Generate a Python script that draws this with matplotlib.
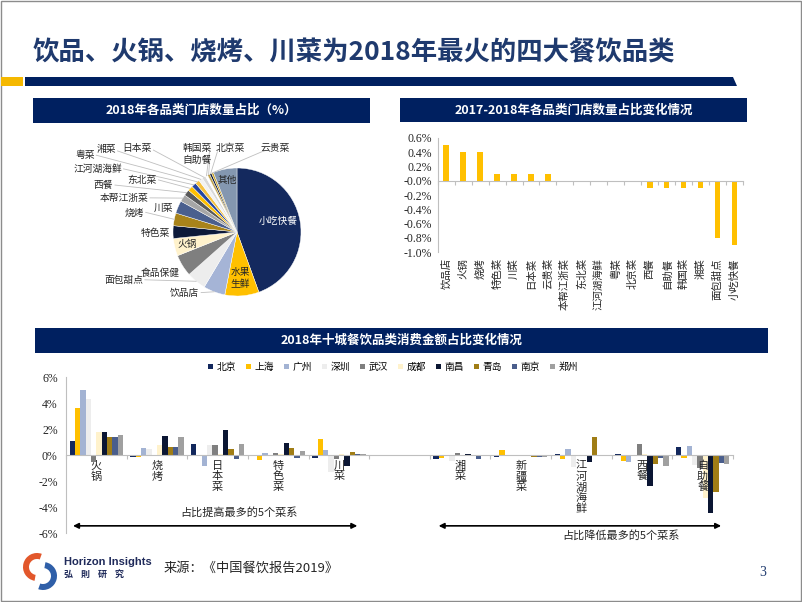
import numpy as np
import matplotlib
matplotlib.use('Agg')
import matplotlib.pyplot as plt
from matplotlib.patches import Rectangle, Polygon, Wedge

plt.rcParams['font.family'] = ['Noto Sans CJK SC', 'DejaVu Sans']
SERIF = 'Liberation Serif'

W, H = 802, 602
NAVY = '#002060'
GOLD = '#FFC000'
TXT = '#262626'

# ---------------- data ----------------
# pie: share of stores by category 2018 (%), clockwise from 12 o'clock
pie_labels = ['小吃快餐', '水果生鲜', '饮品店', '面包甜点', '食品保健', '火锅', '特色菜', '烧烤', '川菜',
              '本帮江浙菜', '西餐', '东北菜', '江河湖海鲜', '粤菜', '湘菜', '日本菜', '韩国菜', '自助餐',
              '北京菜', '云贵菜', '其他']
pie_values = [44.4, 8.6, 5.5, 4.9, 5.5, 4.4, 3.2, 3.2, 3.2,
              1.8, 1.5, 1.3, 1.2, 1.1, 1.0, 0.9, 0.6, 0.6,
              0.5, 0.5, 6.0]

# change of share 2017-2018 (%)
chg_cats = ['饮品店', '火锅', '烧烤', '特色菜', '川菜', '日本菜', '云贵菜', '本帮江浙菜', '东北菜',
            '江河湖海鲜', '粤菜', '北京菜', '西餐', '自助餐', '韩国菜', '湘菜', '面包甜点', '小吃快餐']
chg_vals = [0.5, 0.4, 0.4, 0.1, 0.1, 0.1, 0.1, 0.0, 0.0,
            0.0, 0.0, 0.0, -0.1, -0.1, -0.1, -0.1, -0.8, -0.9]

# ten cities, change of spending share (%)
city_cats = ['火锅', '烧烤', '日本菜', '特色菜', '川菜', '', '湘菜', '新疆菜', '江河湖海鲜', '西餐', '自助餐']
cities = ['北京', '上海', '广州', '深圳', '武汉', '成都', '南昌', '青岛', '南京', '郑州']
beijing   = [1.1, -0.15, 0.85, -0.1, -0.2, np.nan, -0.3, -0.13, 0.08, 0.08, 0.65]
shanghai  = [3.6, -0.15, -0.03, -0.38, 1.2, np.nan, -0.2, 0.35, -0.3, -0.45, -0.2]
guangzhou = [5.0, 0.55, -0.85, 0.15, 0.35, np.nan, -0.03, 0.0, 0.5, -0.57, 0.7]
shenzhen  = [4.3, 0.45, 0.75, -0.05, -1.3, np.nan, -0.45, -0.03, -0.9, -0.05, -0.75]
wuhan     = [-0.5, -0.05, 0.75, 0.18, -0.28, np.nan, 0.18, -0.1, -0.03, 0.85, -1.0]
chengdu   = [1.8, 0.8, 0.1, 0.1, 0.05, np.nan, 0.02, 0.02, -0.05, 0.05, -3.3]
nanchang  = [1.75, 1.47, 1.95, 0.9, -0.88, np.nan, 0.08, -0.08, -0.57, -2.4, -4.45]
qingdao   = [1.37, 0.6, 0.47, 0.52, 0.26, np.nan, -0.08, -0.18, 1.35, -0.67, -2.85]
nanjing   = [1.37, 0.65, -0.3, -0.26, 0.05, np.nan, -0.34, -0.16, 0.02, -0.26, -0.65]
zhengzhou = [1.52, 1.37, 0.87, 0.31, 0.05, np.nan, -0.05, -0.13, 0.02, -0.85, -0.72]
city_vals = [beijing, shanghai, guangzhou, shenzhen, wuhan, chengdu, nanchang, qingdao, nanjing, zhengzhou]

city_colors = ['#12275C', '#FFC000', '#A3B3D3', '#EDEDED', '#7F7F7F',
               '#FFF2CC', '#0B1633', '#A07D15', '#4A5E8C', '#A0A0A0']
pie_colors = ['#14295E', '#FFC000', '#A5B4D6', '#EDEDED', '#7F7F7F', '#FFF2CC', '#0D1A3A', '#A8831A',
              '#4A5F8E', '#A6A6A6', '#595959', '#FFC000', '#2444A0', '#F5C242', '#F2F2F2', '#D9D9D9',
              '#FFFFFF', '#BFA14A', '#0D1A3A', '#C9A227', '#8497B0']

fig = plt.figure(figsize=(W / 100, H / 100), dpi=100)


def px_axes(x0, y0, x1, y1):
    return fig.add_axes([x0 / W, 1 - y1 / H, (x1 - x0) / W, (y1 - y0) / H])


# ---------------- slide decoration ----------------
bg = fig.add_axes([0, 0, 1, 1])
bg.set_xlim(0, W)
bg.set_ylim(H, 0)
bg.axis('off')
bg.add_patch(Rectangle((0.5, 0.5), W - 1.5, H - 1.5, fill=False, ec='#8C8C8C', lw=1))
bg.text(33, 53, '饮品、火锅、烧烤、川菜为2018年最火的四大餐饮品类', fontsize=19, fontweight='bold',
        color='#1F3A6E', va='center', ha='left')
bg.add_patch(Rectangle((1, 77), 22, 9, fc='#F5B800', ec='none'))
bg.add_patch(Polygon([(25, 77), (733, 77), (737, 86), (25, 86)], closed=True, fc=NAVY, ec='none'))

headers = [((33, 98, 370, 123), '2018年各品类门店数量占比（%）'),
           ((400, 98, 747, 122), '2017-2018年各品类门店数量占比变化情况'),
           ((35, 328, 768, 353), '2018年十城餐饮品类消费金额占比变化情况')]
for (x0, y0, x1, y1), t in headers:
    bg.add_patch(Rectangle((x0, y0), x1 - x0, y1 - y0, fc=NAVY, ec='none'))
    bg.text((x0 + x1) / 2, (y0 + y1) / 2, t, color='white', fontsize=9, fontweight='bold',
            ha='center', va='center')

# footer / logo
bg.add_patch(Wedge((37, 567), 14, 100, 290, width=6, fc='#E2572B', ec='none'))
bg.add_patch(Wedge((43, 576), 14, 280, 470, width=6, fc='#2F5FA8', ec='none'))
bg.text(64, 562, 'Horizon Insights', fontsize=8, fontweight='bold', color='#1F2A5A',
        ha='left', va='center', family=['Liberation Sans', 'DejaVu Sans'])
bg.text(64, 575, '弘    則    研    究', fontsize=6.5, fontweight='bold', color='#1F2A5A',
        ha='left', va='center')
bg.text(164, 568, '来源：《中国餐饮报告2019》', fontsize=9.5, color=TXT, ha='left', va='center')
bg.text(763, 572, '3', fontsize=10, color='#1F3A6E', ha='center', va='center', family=SERIF)

# ---------------- pie ----------------
CX, CY, R = 237, 232, 75
ax_pie = px_axes(CX - 80, CY - 80, CX + 80, CY + 80)
lim = 80 / R
ax_pie.set_xlim(-lim, lim)
ax_pie.set_ylim(-lim, lim)
ax_pie.axis('off')
wedges, _ = ax_pie.pie(pie_values, colors=pie_colors, startangle=90, counterclock=False, radius=1,
                       wedgeprops=dict(edgecolor='white', linewidth=0.3))


def pd(px, py):
    return (px - CX) / R, (CY - py) / R


# label layout: name -> (x, y, ha, va, colour, leader anchor or None)
pie_layout = {
    '小吃快餐': (285, 219, 'center', 'center', 'white', None),
    '水果生鲜': (241, 286, 'center', 'center', TXT, None),
    '其他': (226, 171, 'center', 'center', TXT, None),
    '火锅': (179, 246, 'center', 'center', TXT, None),
    '饮品店': (193, 303, 'right', 'center', TXT, (195, 303)),
    '面包甜点': (127, 288, 'right', 'center', TXT, (129, 288)),
    '食品保健': (170, 280, 'right', 'center', TXT, None),
    '特色菜': (158, 233, 'right', 'center', TXT, None),
    '烧烤': (128, 209, 'right', 'center', TXT, (130, 209)),
    '川菜': (162, 204, 'right', 'center', TXT, None),
    '本帮江浙菜': (133, 192, 'right', 'center', TXT, (135, 192)),
    '西餐': (92, 177, 'right', 'center', TXT, (94, 177)),
    '东北菜': (143, 171, 'right', 'center', TXT, (145, 171)),
    '江河湖海鲜': (102, 158, 'right', 'center', TXT, (104, 158)),
    '粤菜': (70, 142, 'right', 'center', TXT, (72, 142)),
    '湘菜': (95, 135, 'right', 'center', TXT, (97, 137)),
    '日本菜': (137, 133, 'right', 'center', TXT, (139, 136)),
    '韩国菜': (191, 133, 'center', 'center', TXT, (205, 136)),
    '自助餐': (190, 147, 'center', 'center', TXT, (205, 148)),
    '北京菜': (229, 134, 'center', 'center', TXT, (214, 138)),
    '云贵菜': (282, 133, 'center', 'center', TXT, (266, 138)),
}
for w, name in zip(wedges, pie_labels):
    x, y, ha, va, col, anc = pie_layout[name]
    txt = '水果\n生鲜' if name == '水果生鲜' else name
    tx, ty = pd(x, y)
    ax_pie.text(tx, ty, txt, ha=ha, va=va, color=col, fontsize=7, linespacing=1.3, clip_on=False)
    if anc is not None:
        mid = np.deg2rad((w.theta1 + w.theta2) / 2)
        ax0, ay0 = pd(*anc)
        ax_pie.plot([ax0, np.cos(mid)], [ay0, np.sin(mid)], color='#BFBFBF', lw=0.6, clip_on=False)

# ---------------- change of share bars ----------------
ax_c = px_axes(437.7, 137.7, 743, 252.3)
xc = np.arange(len(chg_cats))
ax_c.bar(xc, chg_vals, width=0.33, color=GOLD)
ax_c.set_xlim(-0.5, len(chg_cats) - 0.5)
ax_c.set_ylim(-1.0, 0.6)
ax_c.set_yticks(np.arange(-1.0, 0.61, 0.2))
ax_c.set_yticklabels(['{:.1f}%'.format(v) for v in np.arange(-1.0, 0.61, 0.2)], family=SERIF, fontsize=8.5)
ax_c.spines[['top', 'right']].set_visible(False)
ax_c.spines['left'].set_color('#BFBFBF')
ax_c.spines['bottom'].set_position(('data', 0))
ax_c.spines['bottom'].set_color('#BFBFBF')
ax_c.set_xticks(np.arange(-0.5, len(chg_cats), 1))
ax_c.set_xticklabels([])
ax_c.tick_params(axis='x', length=3, color='#BFBFBF', direction='out')
ax_c.tick_params(axis='y', length=0, pad=4, colors=TXT)
for i, c in enumerate(chg_cats):
    ax_c.text(i, -0.05, c, transform=ax_c.get_xaxis_transform(), rotation=90, ha='center', va='top',
              fontsize=7.5, color=TXT)

# ---------------- ten cities ----------------
ax_b = px_axes(66, 377, 733, 533)
xb = np.arange(len(city_cats))
bw = 0.088
bars = []
for j, (vals, col) in enumerate(zip(city_vals, city_colors)):
    b = ax_b.bar(xb + (j - 4.5) * bw, vals, width=bw, color=col, label=cities[j])
    bars.append(b)
ax_b.set_xlim(-0.5, len(city_cats) - 0.5)
ax_b.set_ylim(-6, 6)
ax_b.set_yticks(np.arange(-6, 7, 2))
ax_b.set_yticklabels(['{:d}%'.format(v) for v in range(-6, 7, 2)], family=SERIF, fontsize=8.5)
ax_b.spines[['top', 'right']].set_visible(False)
ax_b.spines['left'].set_color('#BFBFBF')
ax_b.spines['bottom'].set_position(('data', 0))
ax_b.spines['bottom'].set_color('#BFBFBF')
ax_b.set_xticks(np.arange(-0.5, len(city_cats), 1))
ax_b.set_xticklabels([])
ax_b.tick_params(axis='x', length=3, color='#BFBFBF', direction='out')
ax_b.tick_params(axis='y', length=0, pad=6, colors=TXT)
for i, c in enumerate(city_cats):
    if c:
        ax_b.text(i, -0.45, '\n'.join(c), ha='center', va='top', fontsize=8, color=TXT, linespacing=1.05)

ax_b.annotate('', xy=(-0.43, -5.45), xytext=(4.35, -5.45),
              arrowprops=dict(arrowstyle='<|-|>', color='black', lw=1.2, mutation_scale=8))
ax_b.annotate('', xy=(5.6, -5.45), xytext=(10.35, -5.45),
              arrowprops=dict(arrowstyle='<|-|>', color='black', lw=1.2, mutation_scale=8))
ax_b.text(2.35, -4.4, '占比提高最多的5个菜系', ha='center', va='center', fontsize=8, color=TXT)
ax_b.text(8.65, -6.2, '占比降低最多的5个菜系', ha='center', va='center', fontsize=8, color=TXT,
          clip_on=False)

ax_b.legend(handles=bars, labels=cities, ncol=10, loc='center', bbox_to_anchor=(393 / W, 1 - 367 / H),
            bbox_transform=fig.transFigure, frameon=False, fontsize=7, handlelength=0.55,
            handleheight=0.55, handletextpad=0.35, columnspacing=1.0, borderpad=0)

fig.savefig('out.png', dpi=100)
